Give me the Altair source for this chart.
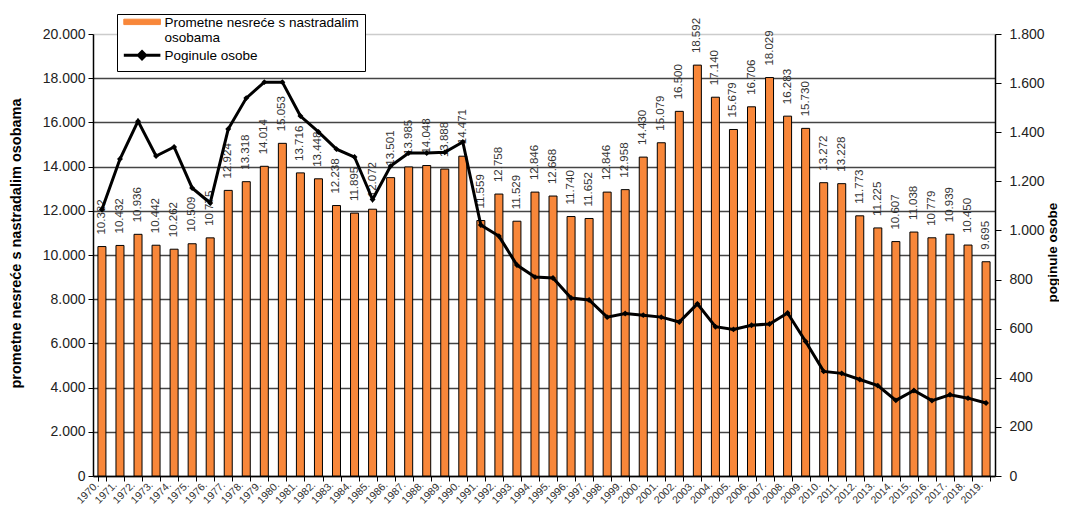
import altair as alt
import pandas as pd

years = ["1970.", "1971.", "1972.", "1973.", "1974.", "1975.", "1976.", "1977.", "1978.", "1979.",
         "1980.", "1981.", "1982.", "1983.", "1984.", "1985.", "1986.", "1987.", "1988.", "1989.",
         "1990.", "1991.", "1992.", "1993.", "1994.", "1995.", "1996.", "1997.", "1998.", "1999.",
         "2000.", "2001.", "2002.", "2003.", "2004.", "2005.", "2006.", "2007.", "2008.", "2009.",
         "2010.", "2011.", "2012.", "2013.", "2014.", "2015.", "2016.", "2017.", "2018.", "2019."]

accidents = [10382, 10432, 10936, 10442, 10262, 10509, 10775, 12924, 13318, 14014,
             15053, 13716, 13448, 12238, 11895, 12072, 13501, 13985, 14048, 13888,
             14471, 11559, 12758, 11529, 12846, 12668, 11740, 11652, 12846, 12958,
             14430, 15079, 16500, 18592, 17140, 15679, 16706, 18029, 16283, 15730,
             13272, 13228, 11773, 11225, 10607, 11038, 10779, 10939, 10450, 9695]

deaths = [1085, 1291, 1445, 1303, 1340, 1173, 1112, 1413, 1539, 1604,
          1604, 1466, 1401, 1331, 1299, 1126, 1262, 1315, 1315, 1318,
          1360, 1022, 977, 859, 810, 806, 725, 717, 647, 662,
          655, 647, 627, 701, 608, 597, 614, 619, 664, 548,
          426, 418, 393, 368, 308, 348, 307, 331, 317, 297]

S1 = "Prometne nesreće s nastradalim osobama"
S2 = "Poginule osobe"
left_ticks = [0, 2000, 4000, 6000, 8000, 10000, 12000, 14000, 16000, 18000, 20000]
right_ticks = [0, 200, 400, 600, 800, 1000, 1200, 1400, 1600, 1800]

ORANGE = "#F8873A"
FONT = "Liberation Sans"

df = pd.DataFrame({"year": years, "acc": accidents, "deaths": deaths})

num_expr = "replace(format(datum.value, ','), ',', '.')"

x_enc = alt.X(
    "year:N", sort=None, title=None,
    scale=alt.Scale(paddingInner=0.55, paddingOuter=0.27),
    axis=alt.Axis(labelAngle=-45, labelAlign="right", labelBaseline="middle",
                  labelOffset=-5, labelPadding=2, labelFontSize=10.5, labelColor="#333",
                  labelFont=FONT, tickBand="extent", tickSize=5, tickColor="black",
                  domainColor="black", domainWidth=1.5, grid=False, labelOverlap=False),
)

color_enc = alt.Color(
    "series:N",
    scale=alt.Scale(domain=[S1, S2], range=[ORANGE, "black"]),
    legend=alt.Legend(
        title=None, orient="none", legendX=24, legendY=-20, direction="vertical",
        strokeColor="black", fillColor="white", padding=6,
        labelFont=FONT, labelFontSize=13.5, labelColor="black", labelLimit=0,
        labelBaseline="alphabetic", labelOffset=28,
        labelExpr="datum.value == 'Poginule osobe' ? datum.label : ['Prometne nesreće s nastradalim', 'osobama']",
        symbolType={"expr": "datum.value == 'Poginule osobe' ? 'M-0.33,-0.25L1.7,-0.25M0.68,-0.45L0.88,-0.25L0.68,-0.05L0.48,-0.25Z' : 'M-0.33,-0.42L1.7,-0.42L1.7,-0.12L-0.33,-0.12Z'"},
        symbolStrokeWidth={"expr": "datum.value == 'Poginule osobe' ? 3 : 1"},
        symbolSize=1300, rowPadding=0,
    ),
)

base = alt.Chart(df).transform_calculate(series=f"'{S1}'")

def y_left():
    return alt.Y(
        "acc:Q", title="prometne nesreće s nastradalim osobama",
        scale=alt.Scale(domain=[0, 20000], nice=False),
        axis=alt.Axis(values=left_ticks, labelExpr=num_expr, labelFontSize=14, labelColor="#222",
                      labelFont=FONT, labelPadding=3, tickSize=5, tickColor="black",
                      domainColor="black", domainWidth=1.5,
                      grid=True,
                      gridColor={"condition": {"test": "datum.value >= 20000", "value": "#cccccc"}, "value": "#444444"},
                      gridWidth=1.3,
                      titleFont=FONT, titleFontSize=14.5, titleFontWeight="bold", titleColor="black",
                      titleAngle=-90, titleBaseline="middle", titleAlign="center",
                      titleX=-77, titleY=209),
    )

bars = base.mark_bar(size=8, stroke="black", strokeWidth=1).encode(
    x=x_enc, y=y_left(), color=color_enc
)

texts = base.transform_calculate(
    lab="replace(format(datum.acc, ','), ',', '.')"
).mark_text(angle=270, align="left", baseline="middle", dx=12, fontSize=11.5,
            color="#333", font=FONT).encode(
    x=x_enc,
    y=y_left(),
    text="lab:N",
)

left_layer = alt.layer(bars, texts)

line = alt.Chart(df).transform_calculate(series=f"'{S2}'").mark_line(
    strokeWidth=3,
    point=alt.OverlayMarkDef(shape="diamond", size=35, filled=True, color="black"),
).encode(
    x=x_enc,
    y=alt.Y("deaths:Q", title="poginule osobe",
            scale=alt.Scale(domain=[0, 1800], nice=False),
            axis=alt.Axis(orient="right", values=right_ticks, labelExpr=num_expr,
                          labelFontSize=14, labelColor="#222", labelFont=FONT,
                          labelPadding=8, tickSize=6, tickColor="black",
                          domainColor="black", domainWidth=1.5, grid=False,
                          titleFont=FONT, titleFontSize=13.5, titleFontWeight="bold",
                          titleColor="black", titleAngle=-90, titleBaseline="middle",
                          titleAlign="center", titleX=57, titleY=218)),
    color=color_enc,
)

chart = alt.layer(left_layer, line).resolve_scale(y="independent").properties(
    width=902, height=442,
    autosize=alt.AutoSizeParams(type="none"),
    padding={"left": 85, "top": 26, "right": 64, "bottom": 33},
).configure_view(stroke=None).configure_legend(
    strokeColor="black", fillColor="white", padding=6
)

chart.save("out.html", embed_options={"renderer": "svg", "actions": False})
